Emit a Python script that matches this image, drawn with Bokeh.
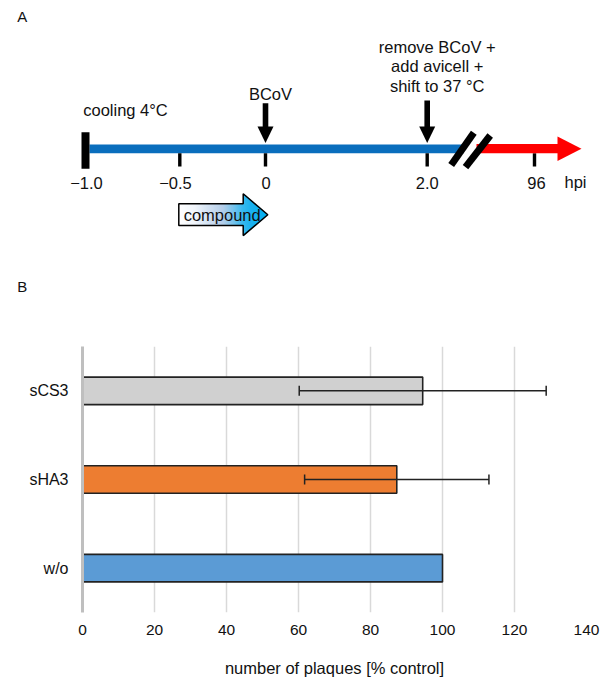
import numpy as np
from bokeh.plotting import figure
from bokeh.models import Range1d, FactorRange, FixedTicker, Whisker, TeeHead, ColumnDataSource
from bokeh.core.properties import value
from bokeh.embed import file_html
from bokeh.resources import INLINE

# ---------------- data ----------------
panel_labels = ["A", "B"]

# Panel A: schematic time line (hours post infection)
time_tick_labels = ["−1.0", "−0.5", "0", "2.0", "96"]
time_unit_label = "hpi"
event_cooling = "cooling 4°C"
event_infection = "BCoV"
event_shift = ["remove BCoV +", "add avicell +", "shift to 37 °C"]
treatment_label = "compound"

# Panel B: plaque numbers
categories = ["w/o", "sHA3", "sCS3"]
plaques = [100.0, 87.3, 94.5]
plaques_sd = [0.0, 25.6, 34.3]
x_ticks = [0, 20, 40, 60, 80, 100, 120, 140]
x_title = "number of plaques [% control]"

# ---------------- styles / layout ----------------
FONT = "Liberation Sans"
TXT = "#111111"
bar_colors = ["#5b9bd5", "#ed7d31", "#d0d0d0"]
A_SIZE = "16.5px"

# schematic (not to scale) positions of the time ticks, in page pixels
tick_x = [85.0, 179.3, 265.0, 426.7, 534.0]
tick_label_x = [86.0, 175.0, 265.7, 426.7, 536.0]
line_y = 148.3

# ---------------- panel A ----------------
pA = figure(width=600, height=300, x_range=Range1d(0, 600), y_range=Range1d(300, 0),
            x_axis_type=None, y_axis_type=None, toolbar_location=None,
            output_backend="svg", min_border=0, outline_line_color=None)

# blue time line (before break)
pA.quad(left=[tick_x[0] + 4], right=[463], top=[line_y - 4.3], bottom=[line_y + 4.4],
        fill_color="#0a6ebd", line_color=None)
# start bar at -1.0
pA.quad(left=[tick_x[0] - 4], right=[tick_x[0] + 4], top=[131.7], bottom=[168.3],
        fill_color="black", line_color=None)
# tick marks
pA.quad(left=[t - 1.7 for t in tick_x[1:]], right=[t + 1.7 for t in tick_x[1:]],
        top=[line_y + 4.4] * 4, bottom=[166] * 4, fill_color="black", line_color=None)
# red arrow after the break
pA.quad(left=[476], right=[558], top=[line_y - 4.8], bottom=[line_y + 4.5],
        fill_color="#ff0000", line_color=None)
pA.patch([557, 581, 557], [136, line_y, 160.5], fill_color="#ff0000", line_color=None)
# axis break marks
pA.segment(x0=[450.7, 465.0], y0=[164.5, 166.7], x1=[473.3, 489.7], y1=[132.3, 135.0],
           line_color="black", line_width=7)

# event arrows (at 0 and 2.0 hpi)
for xi, top in [(tick_x[2], 102.7), (tick_x[3], 100.0)]:
    pA.quad(left=[xi - 2.8], right=[xi + 2.8], top=[top], bottom=[128],
            fill_color="black", line_color=None)
    pA.patch([xi - 8, xi + 8, xi], [126, 126, 142.5], fill_color="black", line_color=None)

# compound arrow with gradient fill
ax0, ahb, atip = 178.3, 242.7, 267.3
acy, body_h, head_h = 214.2, 10.85, 20.9
n = 90
xs = np.linspace(ax0, atip, n + 1)
stops = [(0.0, (255, 255, 255)), (0.18, (240, 245, 251)), (0.5, (168, 198, 230)),
         (0.72, (42, 180, 238)), (1.0, (0, 174, 240))]
def grad(f):
    for (f0, c0), (f1, c1) in zip(stops[:-1], stops[1:]):
        if f <= f1:
            t = (f - f0) / (f1 - f0)
            c = [int(round(a + (b - a) * t)) for a, b in zip(c0, c1)]
            return "#%02x%02x%02x" % tuple(c)
    return "#%02x%02x%02x" % stops[-1][1]
L, R, T, B, C = [], [], [], [], []
for a, b in zip(xs[:-1], xs[1:]):
    m = 0.5 * (a + b)
    if m < ahb:
        h = body_h
    else:
        h = head_h * (atip - m) / (atip - ahb)
    L.append(a); R.append(b + 0.3); T.append(acy - h); B.append(acy + h)
    C.append(grad((m - ax0) / (atip - ax0)))
pA.quad(left=L, right=R, top=T, bottom=B, fill_color=C, line_color=None)
pA.patch([ax0, ahb, ahb, atip, ahb, ahb, ax0],
         [acy - body_h, acy - body_h, acy - head_h, acy, acy + head_h, acy + body_h, acy + body_h],
         fill_color=None, line_color="black", line_width=1.5)

def txt(p, x, y, s, size=A_SIZE, align="center"):
    p.text(x=[x], y=[y], text=[s], text_font=value(FONT), text_font_size=size,
           text_align=align, text_baseline="middle", text_color=TXT)

txt(pA, 21.7, 15.5, panel_labels[0], size="15px")
txt(pA, 21.7, 286.0, panel_labels[1], size="15px")
txt(pA, 82.7, 109.3, event_cooling, align="left")
txt(pA, 270.0, 93.3, event_infection)
for i, s in enumerate(event_shift):
    txt(pA, 436.7, 46.2 + 19.5 * i, s)
for xl, s in zip(tick_label_x, time_tick_labels):
    txt(pA, xl, 182.0, s)
txt(pA, 575.0, 181.7, time_unit_label)
txt(pA, 221.7, 214.5, treatment_label)

# ---------------- panel B ----------------
pB = figure(width=600, height=379, y_range=FactorRange(*categories), x_range=Range1d(0, 140),
            toolbar_location=None, output_backend="svg",
            min_border_left=82, min_border_right=14, min_border_top=46, min_border_bottom=67,
            outline_line_color=None)

src = ColumnDataSource(dict(cat=categories, val=plaques, color=bar_colors))
pB.hbar(y="cat", left=0, right="val", height=0.31, fill_color="color",
        line_color="#222222", line_width=1.6, source=src)

err_idx = [i for i, e in enumerate(plaques_sd) if e > 0]
esrc = ColumnDataSource(dict(cat=[categories[i] for i in err_idx],
                             lower=[plaques[i] - plaques_sd[i] for i in err_idx],
                             upper=[plaques[i] + plaques_sd[i] for i in err_idx]))
wh = Whisker(base="cat", lower="lower", upper="upper", dimension="width", source=esrc,
             line_color="#222222", line_width=1.5, level="overlay",
             lower_head=TeeHead(size=10, line_color="#222222", line_width=1.5),
             upper_head=TeeHead(size=10, line_color="#222222", line_width=1.5))
pB.add_layout(wh)

pB.xaxis.ticker = FixedTicker(ticks=x_ticks)
pB.xaxis.axis_line_color = None
pB.xaxis.major_tick_line_color = None
pB.xaxis.minor_tick_line_color = None
pB.xaxis.major_tick_out = 0
pB.xaxis.major_label_text_font = FONT
pB.xaxis.major_label_text_font_size = "15.5px"
pB.xaxis.major_label_text_color = TXT
pB.xaxis.major_label_standoff = 12
pB.xaxis.axis_label = x_title
pB.xaxis.axis_label_text_font = FONT
pB.xaxis.axis_label_text_font_size = "16.5px"
pB.xaxis.axis_label_text_font_style = "normal"
pB.xaxis.axis_label_text_color = TXT
pB.xaxis.axis_label_standoff = 21

pB.yaxis.axis_line_color = "#bfbfbf"
pB.yaxis.axis_line_width = 3
pB.yaxis.major_tick_line_color = None
pB.yaxis.minor_tick_line_color = None
pB.yaxis.major_tick_out = 0
pB.yaxis.major_label_text_font = FONT
pB.yaxis.major_label_text_font_size = "16px"
pB.yaxis.major_label_text_color = TXT
pB.yaxis.major_label_standoff = 14

pB.xgrid.grid_line_color = "#d9d9d9"
pB.xgrid.grid_line_width = 1.5
pB.ygrid.grid_line_color = None

open("out.html", "w").write(file_html([pA, pB], INLINE))
